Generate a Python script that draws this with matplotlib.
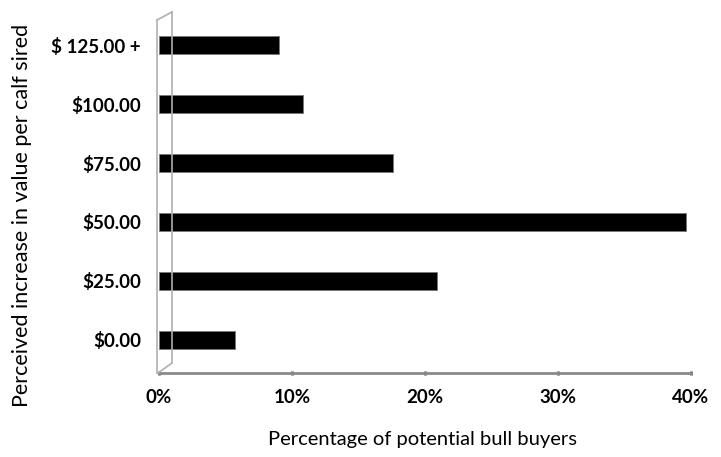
import matplotlib.pyplot as plt
from matplotlib.lines import Line2D

# Survey data
categories = ['$0.00', '$25.00', '$50.00', '$75.00', '$100.00', '$ 125.00 +']
percent = [5.7, 20.9, 39.6, 17.6, 10.8, 9.0]
xticks = [0, 10, 20, 30, 40]

plt.rcParams['font.family'] = ['Lato', 'DejaVu Sans']

fig = plt.figure(figsize=(7.21, 4.57), dpi=100)
ax = fig.add_axes([159/721, 1 - 373/457, (691 - 159)/721, (373 - 12)/457])

ax.barh(range(len(categories)), percent, height=0.32, color='black',
        edgecolor='#777777', linewidth=0.6, zorder=3)

ax.set_xlim(0, 40)
ax.set_ylim(-0.56, 5.56)
ax.set_yticks(range(len(categories)))
ax.set_yticklabels(categories, fontsize=13.5, fontweight='bold')
ax.set_xticks(xticks)
ax.set_xticklabels([f'{t}%' for t in xticks], fontsize=13.5, fontweight='bold')

for s in ['top', 'right', 'left']:
    ax.spines[s].set_visible(False)
ax.spines['bottom'].set_color('#8a8a8a')
ax.spines['bottom'].set_linewidth(2)
ax.tick_params(axis='y', length=0, pad=13)
ax.tick_params(axis='x', length=3, width=2, color='#555555', direction='inout', pad=10)

# thin 3D side wall
trans = fig.transFigure
W, H = 721, 457
wall = [((157, 157), (373, 20)), ((172, 172), (363, 12)),
        ((157, 172), (20, 12)), ((158, 172), (373, 363))]
for xs, ys in wall:
    fig.add_artist(Line2D([x / W for x in xs], [1 - y / H for y in ys],
                          transform=trans, color='#b0b0b0', lw=1.2))

ax.set_xlabel('Percentage of potential bull buyers', fontsize=14.5)
ax.xaxis.set_label_coords((422 - 159) / 532, -(440 - 373) / 361)
ax.set_ylabel('Perceived increase in value per calf sired', fontsize=15.5)
ax.yaxis.set_label_coords((22 - 159) / 532, (373 - 215) / 361)
ax.xaxis.label.set_va('center')
ax.yaxis.label.set_va('center')

fig.savefig('out.png', dpi=100)
